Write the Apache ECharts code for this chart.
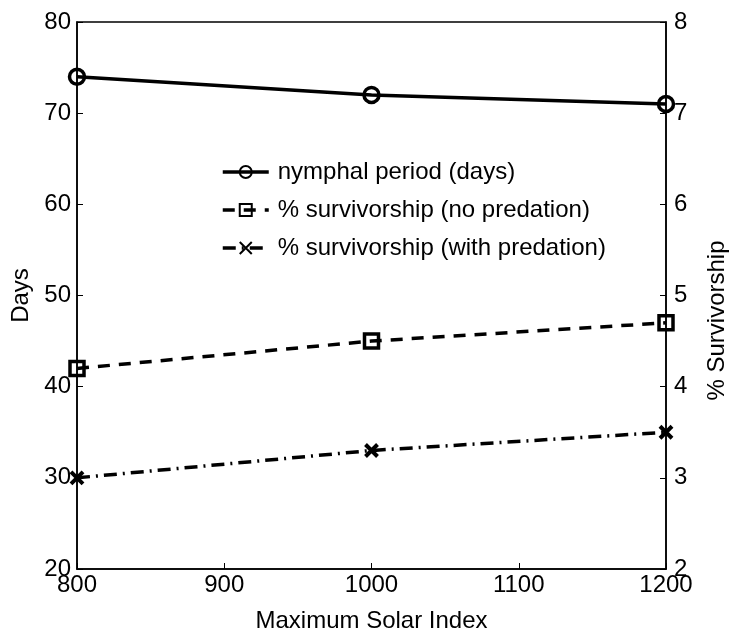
<!DOCTYPE html>
<html>
<head>
<meta charset="utf-8">
<script src="https://cdn.jsdelivr.net/npm/echarts@6/dist/echarts.min.js"></script>
<style>html,body{margin:0;padding:0;background:#fff;}#c{width:730px;height:643px;}</style>
</head>
<body>
<div id="c"></div>
<script>
const solarIndex = [800, 1000, 1200];
const nymphalDays = [74, 72, 71];
const survNoPred = [4.2, 4.5, 4.7];
const survWithPred = [3.0, 3.3, 3.5];
const seriesNames = ['nymphal period (days)', '% survivorship (no predation)', '% survivorship (with predation)'];

const FONT = 'Liberation Sans, Arial, sans-serif';
const chart = echarts.init(document.getElementById('c'), null, {renderer: 'canvas'});
const pairs = (xs, ys) => xs.map((x, i) => [x, ys[i]]);
const xMark = 'path://M0,0L10,10M10,0L0,10';

chart.setOption({
  animation: false,
  backgroundColor: '#fff',
  textStyle: {fontFamily: FONT, color: '#000'},
  grid: {left: 77, right: 64, top: 22, bottom: 74, show: true, borderColor: '#000', borderWidth: 1.5,
         backgroundColor: 'transparent', outerBoundsMode: 'none', containLabel: false},
  legend: {
    left: 216, top: 155, orient: 'vertical', itemWidth: 46, itemHeight: 15, itemGap: 14,
    lineStyle: {width: 3.5},
    textStyle: {fontSize: 24, fontFamily: FONT, color: '#000', padding: [0, 0, 0, 4]},
    data: seriesNames
  },
  xAxis: {
    type: 'value', min: 800, max: 1200, interval: 100,
    name: 'Maximum Solar Index', nameLocation: 'middle', nameGap: 40,
    nameTextStyle: {fontSize: 24, fontFamily: FONT, color: '#000'},
    axisLine: {lineStyle: {color: '#000', width: 1.5}},
    axisTick: {inside: true, length: 6, lineStyle: {color: '#000', width: 1}},
    axisLabel: {fontSize: 24, fontFamily: FONT, color: '#000', margin: 4, formatter: v => String(v)},
    splitLine: {show: false}
  },
  yAxis: [{
    type: 'value', min: 20, max: 80, interval: 10, position: 'left',
    name: 'Days', nameLocation: 'middle', nameGap: 42, nameRotate: 90,
    nameTextStyle: {fontSize: 24, fontFamily: FONT, color: '#000'},
    axisLine: {show: true, lineStyle: {color: '#000', width: 1.5}},
    axisTick: {show: true, inside: true, length: 6, lineStyle: {color: '#000'}},
    axisLabel: {fontSize: 24, fontFamily: FONT, color: '#000', margin: 6},
    splitLine: {show: false}
  }, {
    type: 'value', min: 2, max: 8, interval: 1, position: 'right',
    name: '% Survivorship', nameLocation: 'middle', nameGap: 39, nameRotate: 90,
    nameTextStyle: {fontSize: 24, fontFamily: FONT, color: '#000', verticalAlign: 'top', padding: [0, 50, 0, 0]},
    axisLine: {show: true, lineStyle: {color: '#000', width: 1.5}},
    axisTick: {show: true, inside: true, length: 6, lineStyle: {color: '#000'}},
    axisLabel: {fontSize: 24, fontFamily: FONT, color: '#000', margin: 8},
    splitLine: {show: false}
  }],
  series: [{
    name: seriesNames[0], type: 'line', yAxisIndex: 0,
    data: pairs(solarIndex, nymphalDays),
    symbol: 'circle', symbolSize: 15,
    lineStyle: {color: '#000', width: 3.5, type: 'solid'},
    itemStyle: {color: 'rgba(255,255,255,0)', borderColor: '#000', borderWidth: 3.5},
    z: 3
  }, {
    name: seriesNames[1], type: 'line', yAxisIndex: 1,
    data: pairs(solarIndex, survNoPred),
    symbol: 'rect', symbolSize: 14,
    lineStyle: {color: '#000', width: 3.5, type: [12, 9]},
    itemStyle: {color: 'rgba(255,255,255,0)', borderColor: '#000', borderWidth: 3.5},
    z: 3
  }, {
    name: seriesNames[2], type: 'line', yAxisIndex: 1,
    data: pairs(solarIndex, survWithPred),
    symbol: xMark, symbolSize: 12,
    lineStyle: {color: '#000', width: 3.5, type: [13, 6, 2, 6]},
    itemStyle: {color: 'rgba(255,255,255,0)', borderColor: '#000', borderWidth: 4},
    z: 3
  }]
});
</script>
</body>
</html>
